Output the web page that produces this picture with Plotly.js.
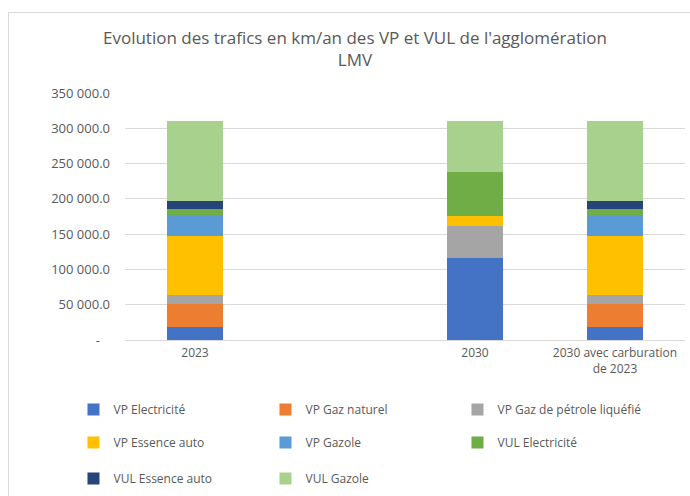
<!DOCTYPE html>
<html>
<head>
<meta charset="utf-8">
<script src="https://cdn.plot.ly/plotly-3.0.1.min.js"></script>
<style>
html,body{margin:0;padding:0;background:#fff;overflow:hidden;}
#frame{position:absolute;left:8px;top:12px;width:800px;height:600px;border:1px solid #D9D9D9;box-sizing:border-box;}
#chart{position:absolute;left:0;top:0;width:690px;height:496px;}
</style>
</head>
<body>
<div id="frame"></div>
<div id="chart"></div>
<script>
const categories = ["2023", " ", "2030", "2030 avec carburation<br>de 2023"];
const seriesNames = ["VP Electricité", "VP Gaz naturel", "VP Gaz de pétrole liquéfié", "VP Essence auto", "VP Gazole", "VUL Electricité", "VUL Essence auto", "VUL Gazole"];
const vpElectricite = [17900, null, 116100, 17900];
const vpGazNaturel = [33300, null, 0, 33300];
const vpGPL = [12700, null, 45100, 12700];
const vpEssence = [83200, null, 14100, 83200];
const vpGazole = [28200, null, 0, 28200];
const vulElectricite = [10900, null, 63000, 10900];
const vulEssence = [10900, null, 0, 10900];
const vulGazole = [113700, null, 72400, 113700];
const tickVals = [0, 50000, 100000, 150000, 200000, 250000, 300000, 350000];
const tickText = ["-\u00a0\u00a0\u00a0", "50 000.0", "100 000.0", "150 000.0", "200 000.0", "250 000.0", "300 000.0", "350 000.0"];
const colors = ["#4472C4", "#ED7D31", "#A5A5A5", "#FFC000", "#5B9BD5", "#70AD47", "#264478", "#A9D18E"];

const values = [vpElectricite, vpGazNaturel, vpGPL, vpEssence, vpGazole, vulElectricite, vulEssence, vulGazole];
const legendIds = ["legend", "legend", "legend", "legend2", "legend2", "legend2", "legend3", "legend3"];
const traces = values.map((v, i) => ({
  type: "bar",
  name: seriesNames[i],
  x: categories,
  y: v,
  legend: legendIds[i],
  marker: {color: colors[i], line: {width: 0}},
  hoverinfo: "name+y"
}));

const family = "'Open Sans', sans-serif";
const legendBase = (y) => ({
  orientation: "h",
  x: -0.092, xanchor: "left",
  y: y, yanchor: "top",
  entrywidth: 147,
  entrywidthmode: "pixels",
  traceorder: "normal",
  font: {family: family, size: 12, color: "#595959"},
  bgcolor: "rgba(0,0,0,0)"
});

const layout = {
  width: 690, height: 496,
  barmode: "stack",
  bargap: 0.6,
  paper_bgcolor: "rgba(0,0,0,0)",
  plot_bgcolor: "rgba(0,0,0,0)",
  margin: {l: 125, r: 5, t: 93, b: 155},
  font: {family: family, color: "#595959", size: 12},
  title: {
    text: "Evolution des trafics en km/an des VP et VUL de l'agglomération<br>LMV",
    font: {family: family, size: 17, color: "#595959"},
    x: 355/690, xanchor: "center",
    y: 1 - 44/496, yanchor: "top", yref: "container"
  },
  xaxis: {
    type: "category",
    categoryorder: "array",
    categoryarray: categories,
    showgrid: false,
    showline: false,
    ticks: "",
    tickfont: {size: 12, color: "#595959"},
    ticklabelstandoff: 4
  },
  yaxis: {
    range: [0, 350000],
    tickvals: tickVals,
    ticktext: tickText,
    gridcolor: "#D9D9D9",
    gridwidth: 1,
    zeroline: true,
    zerolinecolor: "#D9D9D9",
    zerolinewidth: 1,
    showline: false,
    ticks: "",
    tickfont: {size: 13, color: "#595959"},
    ticklabelstandoff: 14
  },
  showlegend: true,
  legend: legendBase(-0.218),
  legend2: legendBase(-0.351),
  legend3: legendBase(-0.496)
};

Plotly.newPlot("chart", traces, layout, {displayModeBar: false, staticPlot: true});
</script>
</body>
</html>
